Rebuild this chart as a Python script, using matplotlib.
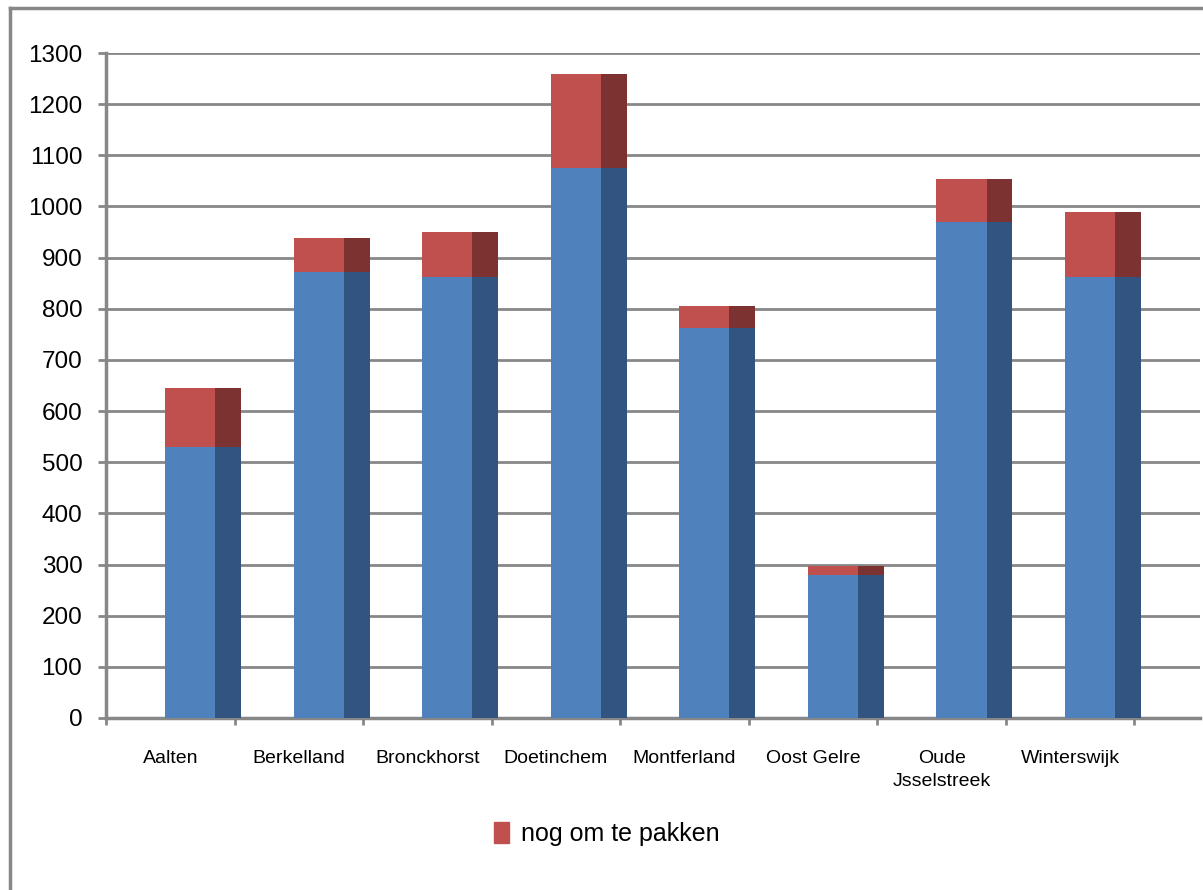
import numpy as np
import matplotlib
matplotlib.use("Agg")
import matplotlib.pyplot as plt
from matplotlib.lines import Line2D
from matplotlib.patches import Patch

# gemeenten en waarden
gemeenten = ["Aalten", "Berkelland", "Bronckhorst", "Doetinchem", "Montferland",
             "Oost Gelre", "Oude\nJsselstreek", "Winterswijk"]
gepakt = [530, 872, 862, 1075, 762, 280, 970, 862]
nog_om_te_pakken = [115, 66, 88, 184, 43, 17, 84, 127]
yticks = list(range(0, 1301, 100))

BLUE, BLUE_SIDE = "#4F81BD", "#325480"
RED, RED_SIDE = "#C0504D", "#7B3231"
GRID = "#878787"

plt.rcParams["font.family"] = ["Liberation Sans", "DejaVu Sans"]

fig = plt.figure(figsize=(12.03, 8.90), dpi=100)
ax = fig.add_axes([0.0881, 0.1933, 0.9094, 0.7471])

x = np.arange(len(gemeenten))
front_x, front_w = x + 0.46, 0.39
side_x, side_w = x + 0.85, 0.20

# voorkant + zijkant (schijn-3D)
ax.bar(front_x, gepakt, front_w, align="edge", color=BLUE, zorder=3)
ax.bar(front_x, nog_om_te_pakken, front_w, bottom=gepakt, align="edge", color=RED, zorder=3)
ax.bar(side_x, gepakt, side_w, align="edge", color=BLUE_SIDE, zorder=3)
ax.bar(side_x, nog_om_te_pakken, side_w, bottom=gepakt, align="edge", color=RED_SIDE, zorder=3)

ax.set_xlim(0, 8.51)
ax.set_ylim(0, 1300)

for y in yticks[1:]:
    ax.axhline(y, color=GRID, lw=2, zorder=1)

ax.set_yticks(yticks)
ax.tick_params(axis="y", length=6, width=2, color=GRID, labelsize=17.5, pad=11)

ax.set_xticks(range(len(gemeenten) + 1))
ax.set_xticklabels([])
ax.set_xticks(x + 0.5, minor=True)
ax.set_xticklabels(gemeenten, minor=True, fontsize=14, linespacing=1.5, va="top")
ax.tick_params(axis="x", which="major", length=5, width=2, color=GRID)
ax.tick_params(axis="x", which="minor", length=0, pad=23)

for s in ["top", "right"]:
    ax.spines[s].set_visible(False)
for s in ["left", "bottom"]:
    ax.spines[s].set_color(GRID)
    ax.spines[s].set_linewidth(2.5)

ax.legend(handles=[Patch(color=RED, label="nog om te pakken")],
          loc="center", bbox_to_anchor=(0.458, -0.175), frameon=False,
          fontsize=18, handlelength=0.6, handleheight=0.9, handletextpad=0.5)

# buitenkader (links en boven)
fig.add_artist(Line2D([0.0087, 0.0087], [0, 0.991], transform=fig.transFigure, color=GRID, lw=2.5))
fig.add_artist(Line2D([0.0087, 1], [0.991, 0.991], transform=fig.transFigure, color=GRID, lw=2.5))

fig.savefig("out.png", dpi=100)
